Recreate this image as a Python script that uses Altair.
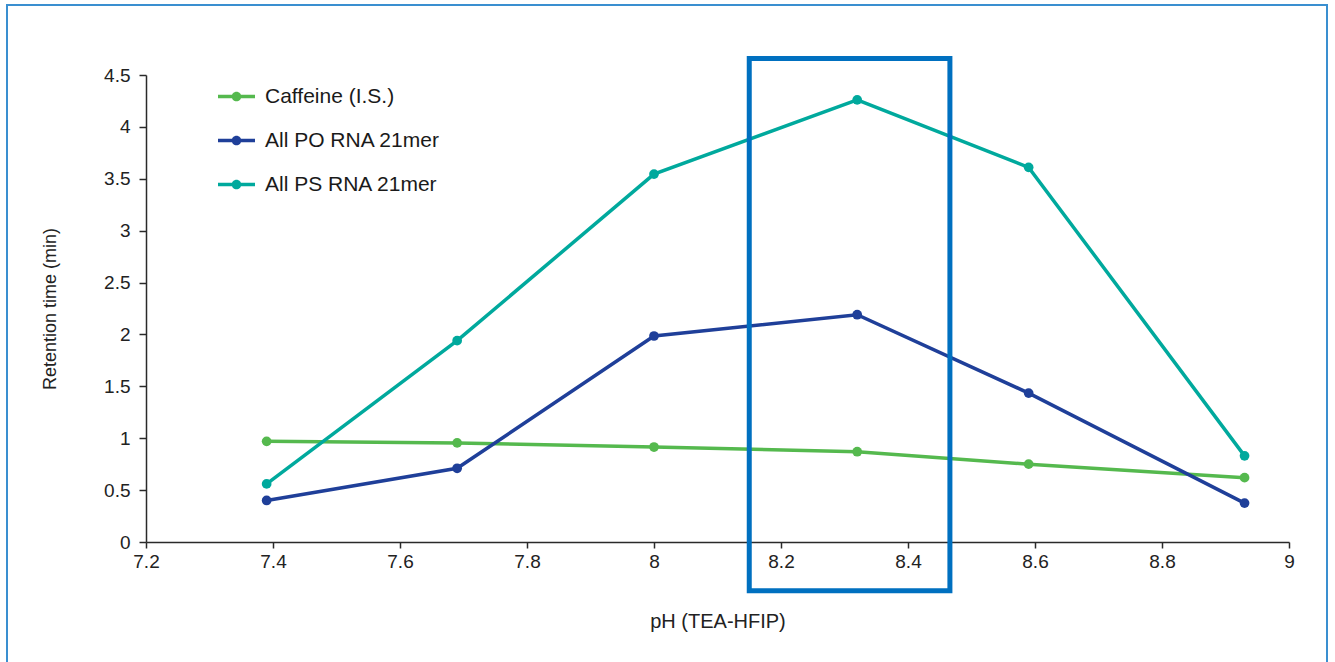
import altair as alt
import pandas as pd

ph = [7.39, 7.69, 8.0, 8.32, 8.59, 8.93]
caffeine = [0.97, 0.955, 0.915, 0.87, 0.75, 0.62]
po_rna = [0.40, 0.71, 1.985, 2.19, 1.435, 0.375]
ps_rna = [0.56, 1.94, 3.545, 4.26, 3.61, 0.83]

series_names = ["Caffeine (I.S.)", "All PO RNA 21mer", "All PS RNA 21mer"]
series_colors = ["#55b94e", "#1f3f99", "#00a99d"]

# highlight box (data coordinates)
box_ph = [8.15, 8.466]
box_rt = [-0.47, 4.66]

rows = []
for name, vals in zip(series_names, [caffeine, po_rna, ps_rna]):
    for x, y in zip(ph, vals):
        rows.append({"pH": x, "rt": y, "series": name})
df = pd.DataFrame(rows)

xscale = alt.Scale(domain=[7.2, 9.0], nice=False, zero=False)
yscale = alt.Scale(domain=[0, 4.5], nice=False)
cscale = alt.Scale(domain=series_names, range=series_colors)

legend_path = ("M-1,-0.09 H-0.2 V0.09 H-1 Z M0.2,-0.09 H1 V0.09 H0.2 Z "
               "M-0.26,0 A0.26,0.26 0 1,1 0.26,0 A0.26,0.26 0 1,1 -0.26,0 Z")

base = alt.Chart(df)

xaxis = alt.Axis(title="pH (TEA-HFIP)", values=[7.2, 7.4, 7.6, 7.8, 8.0, 8.2, 8.4, 8.6, 8.8, 9.0],
                 format="~g", grid=False, tickSize=6, labelPadding=4, labelFlush=False,
                 titlePadding=40, titleFontSize=20)
yaxis = alt.Axis(title="Retention time (min)", values=[0, 0.5, 1, 1.5, 2, 2.5, 3, 3.5, 4, 4.5],
                 format="~g", grid=False, tickSize=7, labelPadding=9, labelFlush=False,
                 titlePadding=44, titleFontSize=18)

line_layers = []
for name, col in zip(series_names, series_colors):
    line_layers.append(
        base.transform_filter(alt.datum.series == name)
        .mark_line(strokeWidth=3.5, color=col)
        .encode(x=alt.X("pH:Q", scale=xscale, axis=xaxis),
                y=alt.Y("rt:Q", scale=yscale, axis=yaxis))
    )

points = base.mark_point(filled=True, size=95, opacity=1, strokeWidth=0).encode(
    x=alt.X("pH:Q", scale=xscale, axis=xaxis),
    y=alt.Y("rt:Q", scale=yscale, axis=yaxis),
    fill=alt.Fill("series:N", scale=cscale,
                  legend=alt.Legend(title=None, orient="none", legendX=72, legendY=3,
                                    symbolType=legend_path, symbolSize=1369,
                                    symbolStrokeWidth=0, symbolOpacity=1,
                                    labelFontSize=21, labelFont="Liberation Sans",
                                    labelColor="#1a1a1a", labelOffset=10, labelLimit=400,
                                    rowPadding=15, padding=0)),
)

box_df = pd.DataFrame({"x1": [box_ph[0]], "x2": [box_ph[1]], "y1": [box_rt[0]], "y2": [box_rt[1]]})
box = alt.Chart(box_df).mark_rect(fill=None, stroke="#0070c0", strokeWidth=5, clip=False).encode(
    x=alt.X("x1:Q", scale=xscale, axis=xaxis),
    x2="x2:Q",
    y=alt.Y("y1:Q", scale=yscale, axis=yaxis),
    y2="y2:Q",
)

frame = alt.Chart(box_df).mark_rect(fill=None, stroke="#3a8fd0", strokeWidth=2, clip=False).encode(
    x=alt.value(-139), x2=alt.value(1181), y=alt.value(-70), y2=alt.value(700)
)

chart = alt.layer(frame, *line_layers, points, box).properties(
    width=1143, height=467,
    background="white",
    autosize=alt.AutoSizeParams(type="none"),
    padding={"left": 146, "top": 75, "right": 46, "bottom": 120},
).configure_view(stroke=None).configure_axis(
    domainColor="#2a2a2a", tickColor="#2a2a2a", domainWidth=1.5, tickWidth=1.5,
    labelFont="Liberation Sans", labelFontSize=19, labelColor="#222222",
    titleFont="Liberation Sans", titleColor="#222222", titleFontWeight="normal",
)

chart.save("out.html", embed_options={"renderer": "svg", "actions": False})
